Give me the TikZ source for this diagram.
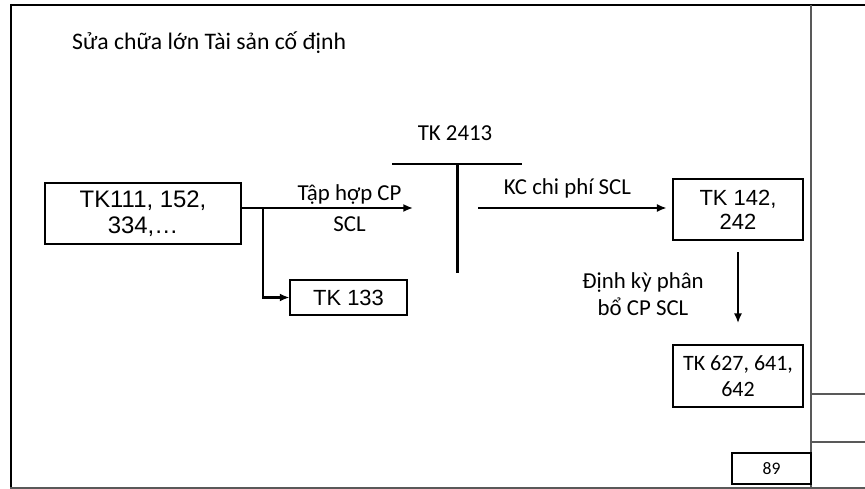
\documentclass[tikz,border=0pt]{standalone}
\usepackage{fontspec}
\usetikzlibrary{arrows.meta}
\setmainfont{Carlito}
\newfontfamily\arialfont{Liberation Sans}
\begin{document}
\begin{tikzpicture}[x=0.02cm, y=-0.02cm, >={Latex[length=5.5pt,width=4.6pt]},
  every node/.style={font=\fontsize{13}{15}\selectfont},
  tkbox/.style={draw, line width=0.6pt, align=center, inner sep=0pt},
  arbox/.style={tkbox, font=\arialfont\fontsize{12.5}{13.5}\selectfont},
  frameline/.style={draw=black!65, line width=0.8pt}]
  \useasboundingbox (0,0) rectangle (865,489);
  % page frame
  \draw[line width=1.5pt] (10,5) -- (865,5);
  \draw[line width=1.7pt] (11,4) -- (11,489);
  \draw[frameline] (10,488) -- (865,488);
  \draw[frameline] (811,5) -- (811,489);
  \draw[frameline] (811,394) -- (865,394);
  \draw[frameline] (811,442) -- (865,442);

  \node[anchor=base west, font=\fontsize{13.5}{15}\selectfont] (title) at (66,50) {Sửa chữa lớn Tài sản cố định};

  \node[arbox, minimum width=3.92cm, minimum height=1.22cm, font=\arialfont\fontsize{13.6}{14.5}\selectfont] (src) at (143,213.5) {TK111, 152,\\334,\dots};
  \node[arbox, minimum width=2.34cm, minimum height=0.70cm] (tk133) at (348.5,297.5) {TK 133};
  \node[arbox, minimum width=2.6cm, minimum height=1.22cm] (tk142) at (738,209.5) {TK 142,\\242};
  \node[tkbox, minimum width=2.6cm, minimum height=1.24cm, font=\fontsize{12.5}{14.5}\selectfont] (tk627) at (738,376) {TK 627, 641,\\642};
  \node[tkbox, line width=1.2pt, minimum width=1.58cm, minimum height=0.62cm, font=\fontsize{10}{12}\selectfont] (page) at (771.5,468.5) {89};

  % T account
  \node (tk2413) at (455,133) {TK 2413};
  \draw[line width=1.7pt] (392,164) -- (522,164);
  \draw[line width=1.7pt] (457,164) -- (457,273);

  \coordinate (cpend) at (413,208);
  \coordinate (split) at (263,208);
  \coordinate (kcstart) at (478,208);
  \coordinate (pbend) at (738,323);

  \draw[->, line width=1.2pt] (src.east |- cpend) -- (cpend)
    node[pos=0.63, anchor=base, yshift=4.5pt] (cplbl) {Tập hợp CP}
    node[pos=0.63, anchor=base, yshift=-13.6pt] (scllbl) {SCL};
  \draw[->, line width=1.2pt] (split) |- (tk133.west);
  \draw[->, line width=0.9pt, shorten >=3.4pt] (kcstart) -- (tk142.west |- kcstart)
    node[pos=0.46, anchor=base, yshift=7.4pt] (kclbl) {KC chi phí SCL};
  \draw[->, line width=0.9pt, shorten <=6.8pt] (tk142.south) -- (pbend);
  \node[align=center] (pblbl) at (643,294) {Định kỳ phân\\bổ CP SCL};
\end{tikzpicture}
\end{document}
